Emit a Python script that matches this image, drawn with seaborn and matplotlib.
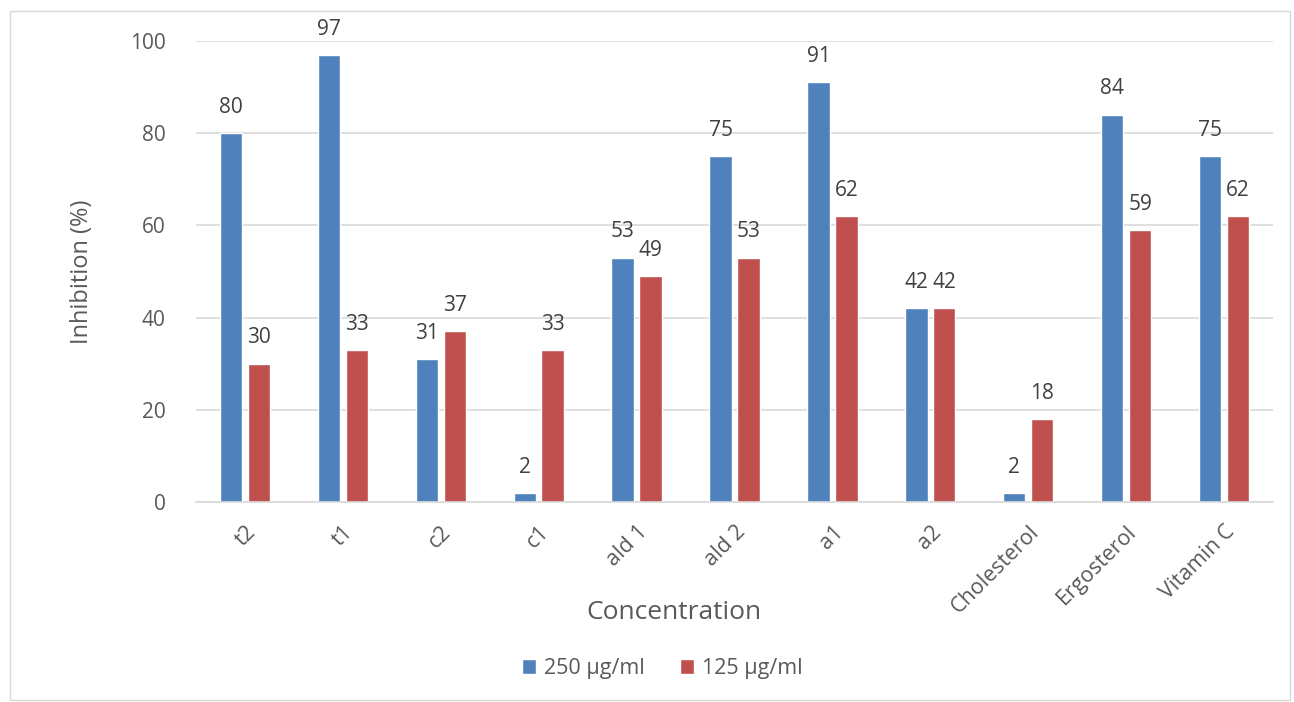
import pandas as pd
import seaborn as sns
import matplotlib.pyplot as plt
from matplotlib.patches import Rectangle

# data
categories = ["t2", "t1", "c2", "c1", "ald 1", "ald 2", "a1", "a2",
              "Cholesterol", "Ergosterol", "Vitamin C"]
inhib_250 = [80, 97, 31, 2, 53, 75, 91, 42, 2, 84, 75]
inhib_125 = [30, 33, 37, 33, 49, 53, 62, 42, 18, 59, 62]
series = ["250 µg/ml", "125 µg/ml"]

df = pd.DataFrame({
    "Concentration": categories * 2,
    "Inhibition": inhib_250 + inhib_125,
    "Series": [series[0]] * len(categories) + [series[1]] * len(categories),
})

sns.set_style("white")
plt.rcParams["font.family"] = ["Open Sans", "DejaVu Sans"]

fig = plt.figure(figsize=(12.94, 7.02), dpi=100)
ax = fig.add_axes([196 / 1294, 1 - 502 / 702, (1273 - 196) / 1294, (502 - 41) / 702])

sns.barplot(data=df, x="Concentration", y="Inhibition", hue="Series",
            palette=["#4F81BD", "#C0504D"], width=0.57, gap=0.2,
            saturation=1, ax=ax)

for cont in ax.containers:
    ax.bar_label(cont, padding=11, fontsize=15, color="#404040")

ax.set_ylim(0, 100)
ax.set_xlim(-0.5, len(categories) - 0.5)
ax.set_yticks(range(0, 101, 20))
ax.yaxis.grid(True, color="#D9D9D9", linewidth=1.2)
ax.set_axisbelow(True)
for s in ["left", "right", "top"]:
    ax.spines[s].set_visible(False)
ax.spines["bottom"].set_color("#D9D9D9")
ax.spines["bottom"].set_linewidth(1.2)
ax.tick_params(axis="both", length=0, labelsize=15, colors="#595959")
ax.tick_params(axis="y", pad=22)
plt.setp(ax.get_xticklabels(), rotation=45, ha="right", rotation_mode="anchor",
         fontsize=15.5)
ax.tick_params(axis="x", pad=14)

ax.set_xlabel("Concentration", fontsize=19, color="#595959")
ax.set_ylabel("Inhibition (%)", fontsize=17, color="#595959")
ax.xaxis.label.set_va("center")
ax.yaxis.label.set_va("center")
ax.xaxis.set_label_coords(0.444, -0.239)
ax.yaxis.set_label_coords(-0.106, 0.5)

leg = ax.legend(loc="center", bbox_to_anchor=(0.433, -0.361), ncol=2, frameon=False,
                fontsize=15.5, handlelength=0.65, handleheight=0.65,
                handletextpad=0.4, columnspacing=1.6)
for t in leg.get_texts():
    t.set_color("#595959")

fig.patches.append(Rectangle((10 / 1294, 2 / 702), 1280 / 1294, 689 / 702,
                             transform=fig.transFigure, fill=False,
                             edgecolor="#D9D9D9", linewidth=1))

fig.savefig("out.png", dpi=100)
